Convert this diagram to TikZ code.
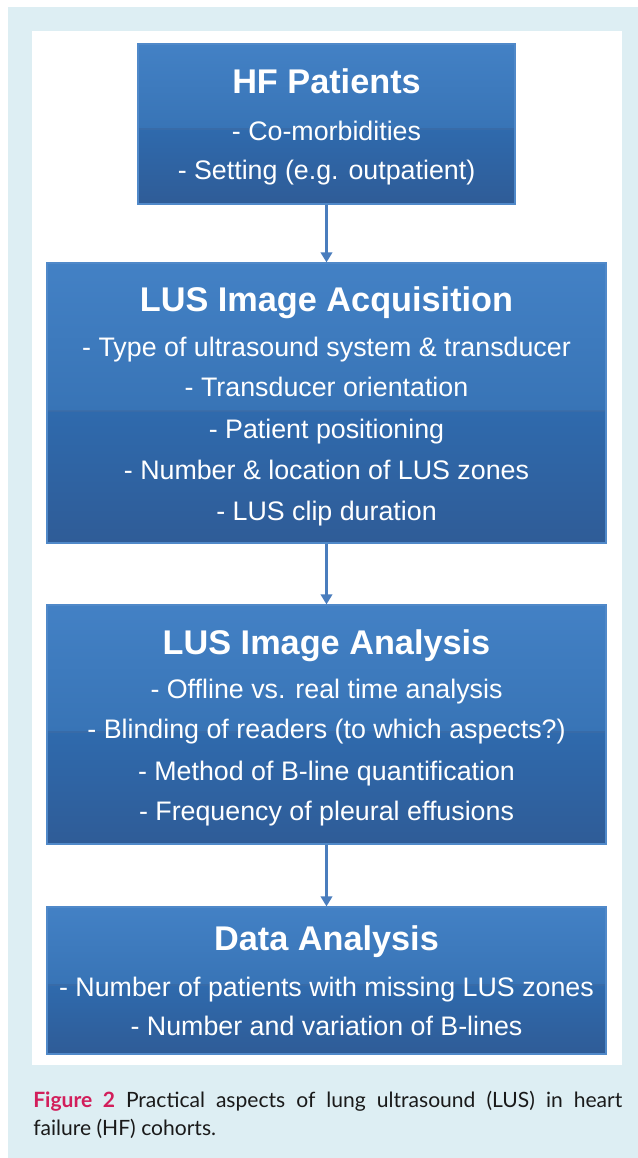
\documentclass[tikz,border=0pt]{standalone}
\usepackage{fontspec}
\setmainfont{Liberation Sans}
\newfontfamily\capfont{Lato}
\usetikzlibrary{arrows.meta,fit,calc}

\definecolor{pageblue}{HTML}{DDEEF3}
\definecolor{gTop}{HTML}{4381C5}
\definecolor{gUp}{HTML}{3874B6}
\definecolor{gBand}{HTML}{3D6CA6}
\definecolor{gLow}{HTML}{2F6AAD}
\definecolor{gBot}{HTML}{2F5C97}
\definecolor{boxedge}{HTML}{5089C9}
\definecolor{arrowblue}{HTML}{4A7DBD}
\definecolor{figred}{HTML}{D21E5B}
\definecolor{captext}{HTML}{1A1A1A}

\tikzset{
  stagebox/.style={
    inner sep=0pt, draw=boxedge, line width=0.9pt,
    path picture={
      \path (path picture bounding box.north west) coordinate (pnw)
            (path picture bounding box.south east) coordinate (pse);
      \coordinate (pmid) at ($(pnw)!0.53!(pnw|-pse)$);
      \shade[top color=gTop, bottom color=gUp] (pnw) rectangle (pse|-pmid);
      \shade[top color=gLow, bottom color=gBot] (pnw|-pmid) rectangle (pse);
      \draw[gBand, line width=1.6pt, opacity=0.7] (pnw|-pmid) -- (pse|-pmid);
    }},
  stagetitle/.style={anchor=base, text=white, inner sep=0pt,
    font=\fontsize{25.7}{30}\selectfont\bfseries},
  stageline/.style={anchor=base, text=white, inner sep=0pt,
    font=\fontsize{20.1}{24}\selectfont},
  flow/.style={draw=arrowblue, line width=2pt,
    -{Triangle[width=8.5pt,length=7.5pt]}},
  captionline/.style={anchor=base west, inner sep=0pt, text=captext,
    font=\capfont\fontsize{15.8}{19}\selectfont}
}

\begin{document}
\begin{tikzpicture}[x=0.75pt,y=-0.75pt]
\useasboundingbox (0,0) rectangle (638,1158);

% page background and white panel
\fill[pageblue] (8,7) rectangle (638,1158);
\fill[white] (32,31) rectangle (622,1065);

% stage boxes
\node[stagebox, fit={(138,44) (515,204)}] (b1) {};
\node[stagebox, fit={(47,263) (606,543)}] (b2) {};
\node[stagebox, fit={(47,605) (606,844)}] (b3) {};
\node[stagebox, fit={(47,907) (606,1054)}] (b4) {};

% connectors
\draw[flow] (b1.south) -- (b2.north);
\draw[flow] (b2.south) -- (b3.north);
\draw[flow] (b3.south) -- (b4.north);

% box 1
\node[stagetitle] (t1) at (326.5,93.5) {HF Patients};
\node[stageline] (l11) at (326.5,140) {- Co-morbidities};
\node[stageline] (l12) at (326.5,179.5) {- Setting (e.g. outpatient)};

% box 2
\node[stagetitle] (t2) at (326.5,311.7) {LUS Image Acquisition};
\node[stageline] (l21) at (326.5,356) {- Type of ultrasound system \& transducer};
\node[stageline] (l22) at (326.5,396.7) {- Transducer orientation};
\node[stageline] (l23) at (326.5,438.3) {- Patient positioning};
\node[stageline] (l24) at (326.5,479.3) {- Number \& location of LUS zones};
\node[stageline] (l25) at (326.5,520) {- LUS clip duration};

% box 3
\node[stagetitle] (t3) at (326.5,654) {LUS Image Analysis};
\node[stageline] (l31) at (326.5,698.3) {- Offline vs. real time analysis};
\node[stageline] (l32) at (326.5,738.3) {- Blinding of readers (to which aspects?)};
\node[stageline] (l33) at (326.5,780) {- Method of B-line quantification};
\node[stageline] (l34) at (326.5,820) {- Frequency of pleural effusions};

% box 4
\node[stagetitle] (t4) at (326.5,950) {Data Analysis};
\node[stageline] (l41) at (326.5,996.7) {- Number of patients with missing LUS zones};
\node[stageline] (l42) at (326.5,1035) {- Number and variation of B-lines};

% caption
\node[captionline] (cap1) at (33,1107) {\makebox[441.75pt][s]{\textcolor{figred}{\bfseries Figure 2} Practical aspects of lung ultrasound (LUS) in heart}};
\node[captionline] (cap2) at (33,1135) {failure (HF) cohorts.};
\end{tikzpicture}
\end{document}
